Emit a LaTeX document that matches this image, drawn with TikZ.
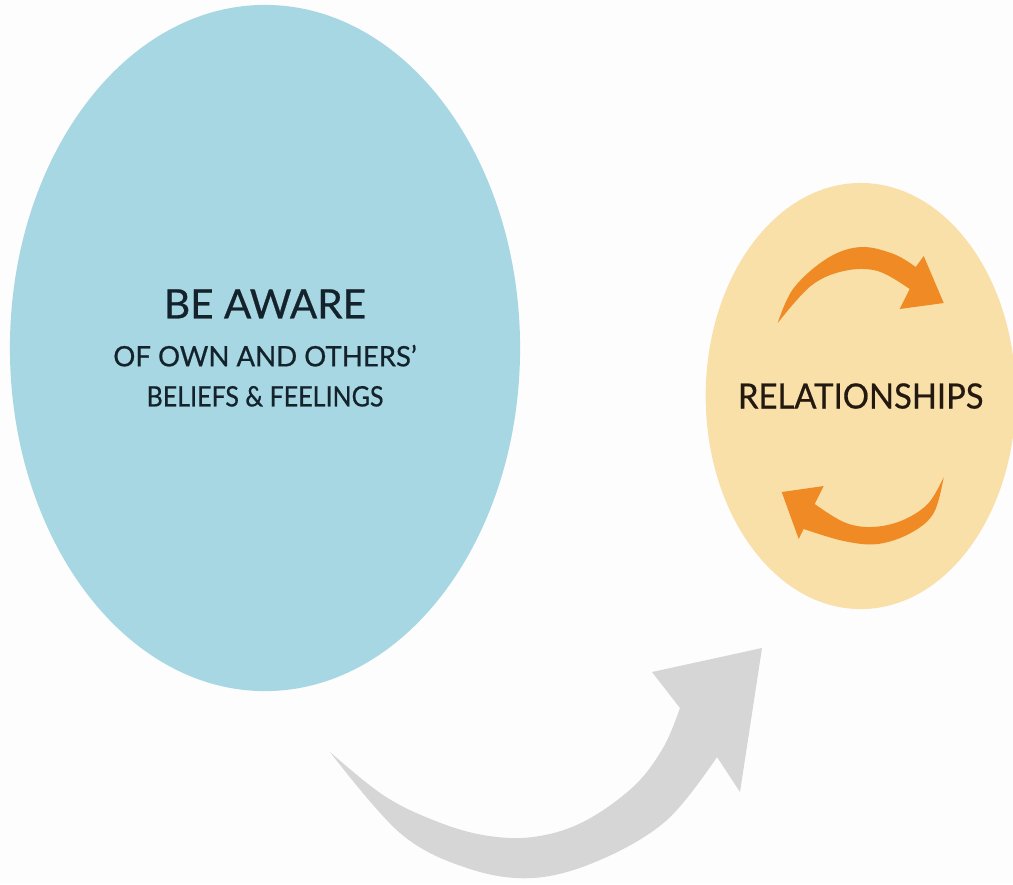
\documentclass[tikz,border=0pt]{standalone}
\usepackage{fontspec}
\usepackage{graphicx}
\setmainfont{Lato}[FakeBold=0.6]
\usetikzlibrary{shapes.geometric}
\usetikzlibrary{positioning}
\definecolor{paper}{RGB}{253,253,253}
\definecolor{awareblue}{RGB}{166,215,226}
\definecolor{awareink}{RGB}{20,34,44}
\definecolor{relyellow}{RGB}{249,224,168}
\definecolor{relink}{RGB}{36,25,16}
\definecolor{turnorange}{RGB}{240,138,36}
\definecolor{movegrey}{RGB}{214,214,214}
\newcommand{\awarehead}{\fontsize{28.8pt}{34pt}\selectfont}
\newcommand{\awaresub}{\fontsize{20pt}{28.5pt}\selectfont}
\newcommand{\relfont}{\fontsize{24.8pt}{30pt}\selectfont}
\tikzset{bubble/.style={ellipse, inner sep=0pt},
turn/.style={fill=turnorange},
move/.style={fill=movegrey}}

\begin{document}
\begin{tikzpicture}[x=0.025cm, y=-0.025cm]
\useasboundingbox[fill=paper] (0,0) rectangle (1013,884);

\node (aware) [bubble, fill=awareblue, minimum width=12.75cm, minimum height=17.15cm] at (265,348) {};
\node (rel) [bubble, fill=relyellow, minimum width=7.75cm, minimum height=10.65cm, right=4.625cm of aware, yshift=-1.2cm] {};

\node (awaretxt) [text=awareink, align=center, font=\awaresub] at (aware) {{\awarehead BE AWARE}\\[5.6pt]\scalebox{0.98}[1]{OF OWN AND OTHERS'}\\\scalebox{0.89}[1]{BELIEFS \& FEELINGS}};
\node (reltxt) [text=relink, font=\relfont] at (rel) {\scalebox{0.94}[1]{RELATIONSHIPS}};

% the two turning arrows inside the relationships bubble
\begin{scope}[shift={(rel)}]
\fill[turn] plot[smooth, tension=.6] coordinates {(-83,-73) (-67,-108) (-33,-138) (0,-149) (33,-142) (55,-129)}
 -- (63,-140) -- (83,-93) -- (39,-87) -- (49,-107)
 -- plot[smooth, tension=.6] coordinates {(49,-107) (17,-125) (-17,-125) (-50,-110) (-83,-73)} -- cycle;
\fill[turn] plot[smooth, tension=.6] coordinates {(83,81) (73,117) (50,137) (17,148) (-17,145) (-57,133)}
 -- (-62,143) -- (-79,96) -- (-37,90) -- (-46,108)
 -- plot[smooth, tension=.6] coordinates {(-46,108) (-17,126) (10,131) (40,125) (67,108) (83,81)} -- cycle;
\end{scope}

% big grey arrow from awareness to relationships
\coordinate (from) at (330,752);
\coordinate (to) at (762,648);
\fill[move] plot[smooth, tension=.6] coordinates {(from) (400,833) (467,868) (533,878) (600,860) (667,820) (717,757)}
 -- (740,792) -- (to) -- (652,672) -- (680,708)
 -- plot[smooth, tension=.6] coordinates {(680,708) (663,748) (633,787) (583,822) (533,837) (483,835) (433,820) (383,795) (from)} -- cycle;
\end{tikzpicture}
\end{document}
